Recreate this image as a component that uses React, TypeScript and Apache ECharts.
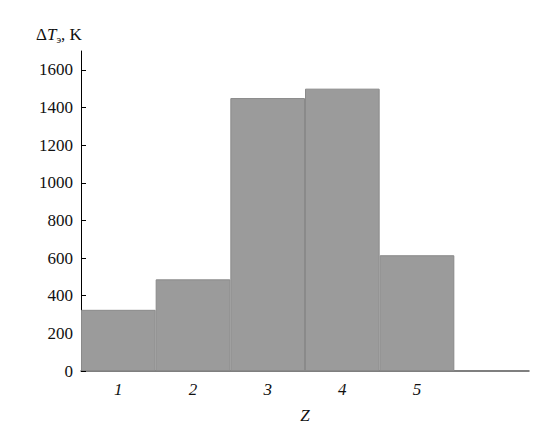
import React, { useEffect, useRef } from "react";
import * as echarts from "echarts";

const categories = ["1", "2", "3", "4", "5", ""];
const values: (number | null)[] = [325, 487, 1450, 1500, 615, null];
const yTicks = [0, 200, 400, 600, 800, 1000, 1200, 1400, 1600];

const FONT = "Liberation Serif";

export default function App() {
  const ref = useRef<HTMLDivElement>(null);
  useEffect(() => {
    if (!ref.current) return;
    const chart = echarts.init(ref.current, null, { renderer: "svg" });
    chart.setOption({
      animation: false,
      backgroundColor: "#ffffff",
      textStyle: { fontFamily: FONT },
      grid: { left: 81, right: 19, top: 51, bottom: 55, containLabel: false },
      xAxis: {
        type: "category",
        data: categories,
        axisLine: { show: true, lineStyle: { color: "#555555", width: 1.5 } },
        axisTick: { show: false },
        axisLabel: {
          fontFamily: FONT,
          fontStyle: "italic",
          fontSize: 17,
          color: "#111111",
          margin: 10,
        },
        name: "Z",
        nameLocation: "middle",
        nameGap: 36,
        nameTextStyle: { fontFamily: FONT, fontStyle: "italic", fontSize: 17, color: "#111111" },
        splitLine: { show: false },
      },
      yAxis: {
        type: "value",
        min: 0,
        max: 1700,
        interval: 100,
        axisLine: { show: true, lineStyle: { color: "#000000", width: 1 } },
        axisTick: { show: true, inside: true, length: 5, customValues: yTicks, lineStyle: { color: "#000000" } },
        axisLabel: {
          customValues: yTicks,
          formatter: (v: number) => String(v),
          fontFamily: FONT,
          fontSize: 17,
          color: "#111111",
          margin: 8,
        },
        splitLine: { show: false },
      },
      series: [
        {
          type: "bar",
          data: values,
          barCategoryGap: "0%",
          itemStyle: { color: "#9b9b9b", borderColor: "#8a8a8a", borderWidth: 1 },
        },
      ],
      graphic: [
        {
          type: "text",
          left: 36,
          top: 26,
          style: {
            text: "{a|Δ}{i|T}{s|э}{a|, K}",
            rich: {
              a: { fontFamily: FONT, fontSize: 17, fill: "#111111" },
              i: { fontFamily: FONT, fontSize: 17, fontStyle: "italic", fill: "#111111" },
              s: { fontFamily: FONT, fontSize: 11, fill: "#111111", padding: [8, 0, 0, 0] },
            },
          },
        },
      ],
    });
    return () => chart.dispose();
  }, []);
  return <div ref={ref} style={{ width: 548, height: 429, position: "absolute", left: 0, top: 0 }} />;
}
